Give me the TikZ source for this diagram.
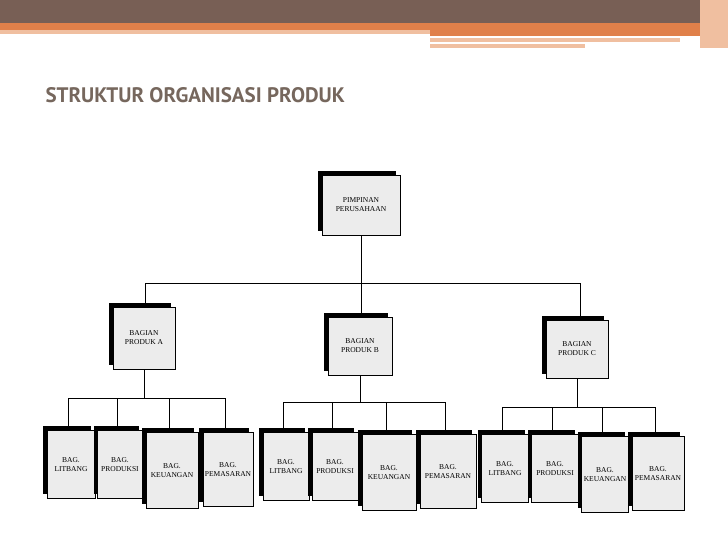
\documentclass[tikz,border=0pt]{standalone}
\usepackage{fontspec}
\setmainfont{Liberation Serif}
\newfontfamily\titlefont{PT Sans}
\definecolor{brownbar}{HTML}{785F55}
\definecolor{orangebar}{HTML}{E0804A}
\definecolor{lightorange}{HTML}{F0BFA0}
\definecolor{titlecol}{HTML}{76675D}
\definecolor{boxfill}{HTML}{ECECEC}
\begin{document}
\begin{tikzpicture}[x=1pt,y=-1pt,
  orgbox/.style={draw=black,line width=0.8pt,fill=boxfill,align=center,inner sep=1pt,
    font=\fontsize{7.5}{9}\selectfont,
    preaction={fill=black,transform canvas={xshift=-4pt,yshift=4pt}}},
  conn/.style={line width=0.9pt}]
\useasboundingbox (0,0) rectangle (728,546);
\fill[white] (0,0) rectangle (728,546);
% banner
\fill[brownbar] (0,0) rectangle (728,23);
\fill[orangebar] (0,23) rectangle (728,30);
\fill[lightorange] (0,30) rectangle (430,34);
\fill[orangebar] (430,30) rectangle (700,36);
\fill[lightorange] (430,38) rectangle (680,42);
\fill[lightorange] (430,44) rectangle (585,48);
\fill[lightorange] (700,0) rectangle (728,48);
\node[anchor=west,text=titlecol,font=\titlefont\bfseries\fontsize{21}{24}\selectfont] (title) at (42,95) {STRUKTUR ORGANISASI PRODUK};
% top
\node[orgbox,minimum width=78pt,minimum height=60pt] (top) at (361,205) {PIMPINAN\\PERUSAHAAN};
% middle
\node[orgbox,minimum width=62pt,minimum height=62pt] (ma) at (144,338) {BAGIAN\\PRODUK A};
\node[orgbox,minimum width=64pt,minimum height=58pt] (mb) at (360,346) {BAGIAN\\PRODUK B};
\node[orgbox,minimum width=62pt,minimum height=58pt] (mc) at (577,349) {BAGIAN\\PRODUK C};
\coordinate (hl) at (145,283); \coordinate (hr) at (580,283); \coordinate (hm) at (361,283);
\draw[conn] (top.south) -- (hm);
\draw[conn] (hl) -- (hr);
\draw[conn] (hl) -- (hl |- ma.north);
\draw[conn] (hm) -- (hm |- mb.north);
\draw[conn] (hr) -- (hr |- mc.north);
% bottom groups
\foreach \g/\m/\by/\xa/\xb/\xc/\xd/\wwa/\wwb/\wwc/\wwd/\tp in
  {a/ma/398/68/117/169/225/48/45/52/50/430,
   b/mb/402/283/332/386/445/46/46/54/56/432,
   c/mc/407/502/552/602/655/47/47/47/52/434}{
  \coordinate (\g bl) at (\xa,\by); \coordinate (\g br) at (\xd,\by);
  \coordinate (\g bm) at (\m.south |- \g bl);
  \draw[conn] (\m.south) -- (\g bm);
  \draw[conn] (\g bl) -- (\g br);
  \node[orgbox,anchor=north,minimum width=\wwa pt,minimum height=68pt] (\g1) at (\xa+3,\tp) {BAG.\\LITBANG};
  \node[orgbox,anchor=north,minimum width=\wwb pt,minimum height=68pt] (\g2) at (\xb+3,\tp) {BAG.\\PRODUKSI};
  \node[orgbox,anchor=north,minimum width=\wwc pt,minimum height=76pt] (\g3) at (\xc+3,\tp+2) {BAG.\\KEUANGAN};
  \node[orgbox,anchor=north,minimum width=\wwd pt,minimum height=74pt] (\g4) at (\xd+3,\tp+2) {BAG.\\PEMASARAN};
  \draw[conn] (\g bl) -- (\g bl |- \g1.north);
  \draw[conn] (\xb,\by) -- (\xb,\tp);
  \draw[conn] (\xc,\by) -- (\xc,\tp+2);
  \draw[conn] (\g br) -- (\g br |- \g4.north);
}
\end{tikzpicture}
\end{document}
